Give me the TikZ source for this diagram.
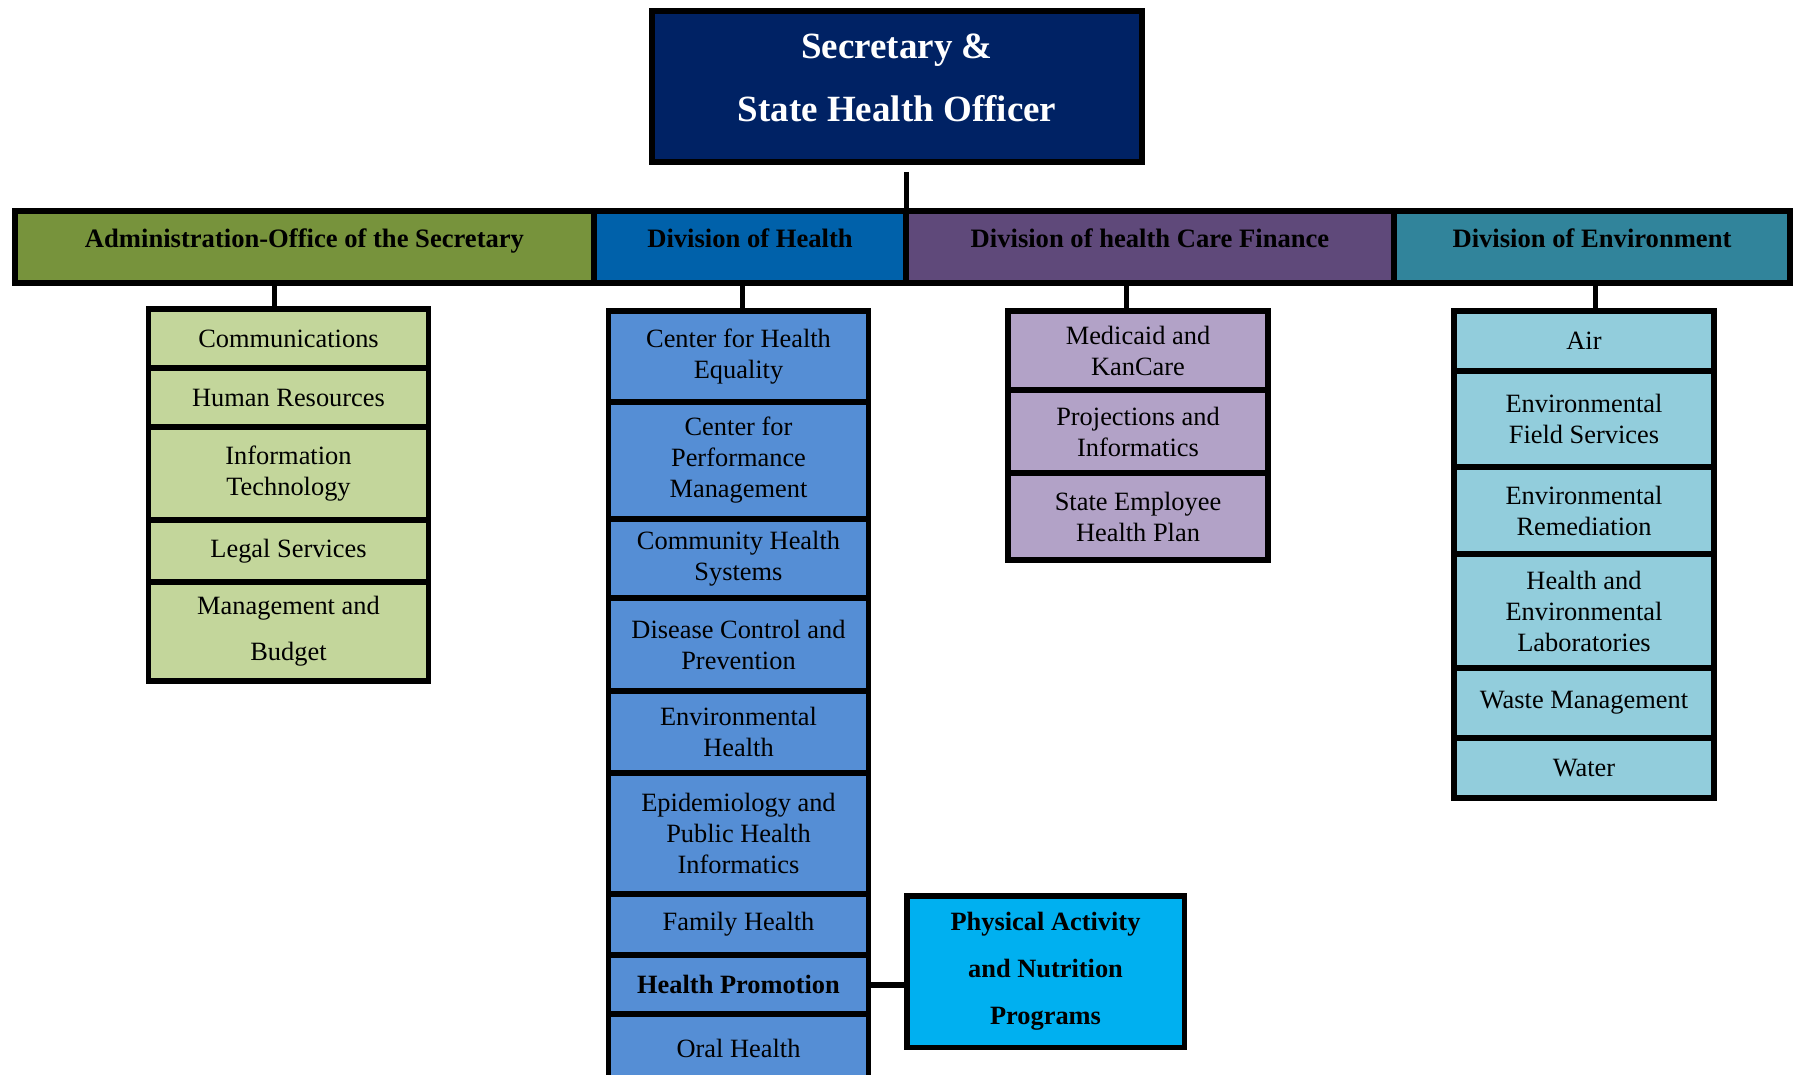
\documentclass[tikz,border=0pt]{standalone}
\usepackage{fontspec}
\setmainfont{Liberation Serif}
\usepackage{tikz}
\definecolor{chiefblue}{RGB}{0,34,100}
\definecolor{admindark}{RGB}{119,147,60}
\definecolor{adminlight}{RGB}{195,214,155}
\definecolor{healthdark}{RGB}{0,97,170}
\definecolor{healthlight}{RGB}{85,142,213}
\definecolor{financedark}{RGB}{95,73,122}
\definecolor{financelight}{RGB}{178,162,199}
\definecolor{envdark}{RGB}{49,132,155}
\definecolor{envlight}{RGB}{146,205,220}
\definecolor{programblue}{RGB}{0,176,240}
\tikzstyle{chief}=[draw, line width=6pt, fill=chiefblue, text=white, align=center, outer sep=0pt, inner sep=2pt, minimum width=490pt, minimum height=151pt, text depth=18pt, font=\bfseries\fontsize{37}{63}\selectfont]
\tikzstyle{division}=[draw, line width=6pt, outer sep=0pt, inner sep=2pt, minimum height=72pt, text height=18pt, text depth=16.4pt, font=\bfseries\fontsize{26.6}{31}\selectfont]
\tikzstyle{unit}=[draw, line width=5.5pt, outer sep=0pt, inner sep=2pt, align=center, minimum width=260pt, font=\fontsize{26.4}{31}\selectfont]
\tikzstyle{adminunit}=[unit, fill=adminlight, minimum width=280pt]
\tikzstyle{healthunit}=[unit, fill=healthlight]
\tikzstyle{financeunit}=[unit, fill=financelight]
\tikzstyle{envunit}=[unit, fill=envlight]
\tikzstyle{link}=[line width=5pt]

\begin{document}
\begin{tikzpicture}[x=1pt, y=-1pt]
\useasboundingbox (0, 0) rectangle (1799, 1075);
\node[chief] at (897, 86.5) (sec) {Secretary \&\\State Health Officer};

\node[division, fill=admindark, minimum width=579pt] at (304.5, 247) (admin) {Administration-Office of the Secretary};
\node[division, fill=healthdark, minimum width=312pt] at (750, 247) (health) {Division of Health};
\node[division, fill=financedark, minimum width=488pt] at (1150, 247) (finance) {Division of health Care Finance};
\node[division, fill=envdark, minimum width=396pt] at (1592, 247) (env) {Division of Environment};

\node[adminunit, minimum height=59pt] at (288.5, 338.5) (comm) {Communications};
\node[adminunit, minimum height=59pt] at (288.5, 397.5) (hr) {Human Resources};
\node[adminunit, minimum height=93pt] at (288.5, 473.5) (it) {Information\\Technology};
\node[adminunit, minimum height=62pt] at (288.5, 551) (legal) {Legal Services};
\node[adminunit, minimum height=99pt, font=\fontsize{26.4}{46}\selectfont] at (288.5, 631.5) (budget) {Management and\\Budget};

\node[healthunit, minimum height=91pt] at (738.5, 356.5) (equality) {Center for Health\\Equality};
\node[healthunit, minimum height=117pt] at (738.5, 460.5) (performance) {Center for\\Performance\\Management};
\node[healthunit, minimum height=79pt] at (738.5, 558.5) (community) {Community Health\\Systems};
\node[healthunit, minimum height=93pt] at (738.5, 644.5) (disease) {Disease Control and\\Prevention};
\node[healthunit, minimum height=82pt] at (738.5, 732) (envhealth) {Environmental\\Health};
\node[healthunit, minimum height=121pt] at (738.5, 833.5) (epi) {Epidemiology and\\Public Health\\Informatics};
\node[healthunit, minimum height=61pt] at (738.5, 924.5) (family) {Family Health};
\node[healthunit, minimum height=59pt] at (738.5, 984.5) (promotion) {\textbf{Health Promotion}};
\node[healthunit, minimum height=68pt] at (738.5, 1048) (oral) {Oral Health};

\node[draw, line width=5.5pt, outer sep=0pt, inner sep=2pt, align=center, fill=programblue, minimum width=277.5pt, minimum height=151.5pt, font=\bfseries\fontsize{26.4}{47}\selectfont] at (1045.5, 971.5) (activity) {Physical Activity\\and Nutrition\\Programs};

\node[financeunit, minimum height=79pt] at (1138, 350.5) (medicaid) {Medicaid and\\KanCare};
\node[financeunit, minimum height=83pt] at (1138, 431.5) (projections) {Projections and\\Informatics};
\node[financeunit, minimum height=87pt] at (1138, 516.5) (employee) {State Employee\\Health Plan};

\node[envunit, minimum height=60pt] at (1584, 341) (air) {Air};
\node[envunit, minimum height=96pt] at (1584, 419) (field) {Environmental\\Field Services};
\node[envunit, minimum height=87pt] at (1584, 510.5) (remediation) {Environmental\\Remediation};
\node[envunit, minimum height=114pt] at (1584, 611) (labs) {Health and\\Environmental\\Laboratories};
\node[envunit, minimum height=70pt] at (1584, 703) (waste) {Waste Management};
\node[envunit, minimum height=60pt] at (1584, 768) (water) {Water};

\draw[link] ([yshift=-10pt]sec.south -| health.north east) -- (health.north east);
\draw[link] ([xshift=-14.5pt]comm.north) -- ([xshift=-14.5pt]comm.north |- admin.south);
\draw[link] ([xshift=3.5pt]equality.north) -- ([xshift=3.5pt]equality.north |- health.south);
\draw[link] ([xshift=-12pt]medicaid.north) -- ([xshift=-12pt]medicaid.north |- finance.south);
\draw[link] ([xshift=11pt]air.north) -- ([xshift=11pt]air.north |- env.south);
\draw[link, line width=6pt] (promotion.east) -- (promotion.east -| activity.west);
\end{tikzpicture}
\end{document}
